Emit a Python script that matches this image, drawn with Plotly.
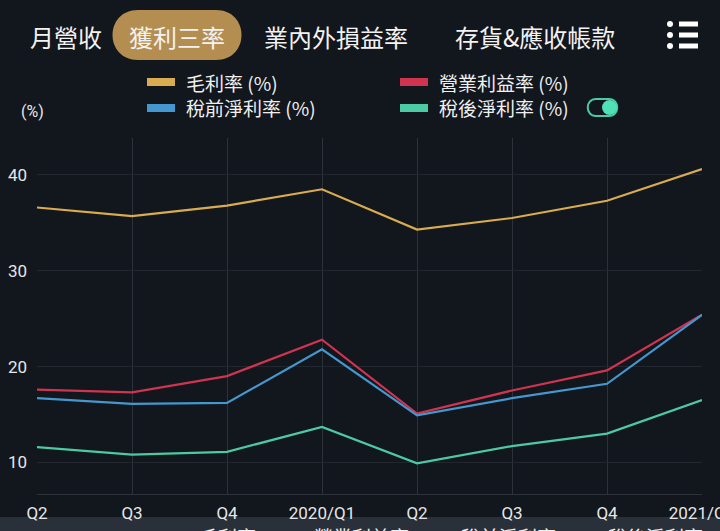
import plotly.graph_objects as go

categories = ["Q2", "Q3", "Q4", "2020/Q1", "Q2 ", "Q3 ", "Q4 ", "2021/Q1"]
tick_labels = ["Q2", "Q3", "Q4", "2020/Q1", "Q2", "Q3", "Q4", "2021/Q1"]
gross_margin = [36.6, 35.7, 36.8, 38.5, 34.3, 35.5, 37.3, 40.6]
operating_margin = [17.6, 17.3, 19.0, 22.8, 15.1, 17.5, 19.6, 25.4]
pretax_margin = [16.7, 16.1, 16.2, 21.8, 14.9, 16.7, 18.2, 25.4]
net_margin = [11.6, 10.8, 11.1, 13.7, 9.9, 11.7, 13.0, 16.5]
series_names = ["毛利率 (%)", "營業利益率 (%)", "稅前淨利率 (%)", "稅後淨利率 (%)"]
series_colors = ["#d8ac4f", "#cf3450", "#4597cf", "#4ccaa3"]
tabs = ["月營收", "獲利三率", "業內外損益率", "存貨&應收帳款"]
y_ticks = [10, 20, 30, 40]

BG = "#12161d"
FONT = "Noto Sans CJK TC, Noto Sans, sans-serif"
W, H = 720, 531
L, R, T, B = 37, 702, 138, 494


def px(x):
    return (x - L) / (R - L)


def py(y):
    return (B - y) / (B - T)


fig = go.Figure()
for name, vals, col in zip(series_names, [gross_margin, operating_margin, pretax_margin, net_margin], series_colors):
    fig.add_trace(go.Scatter(x=categories, y=vals, mode="lines", name=name,
                             line=dict(color=col, width=2.2), hoverinfo="skip"))

shapes = []
annotations = []

# tabs
tab_x = [66, 177, 336, 535]
shapes.append(dict(type="path", xref="paper", yref="paper",
                   path=f"M {px(138)},{py(10)} L {px(216)},{py(10)} "
                        f"C {px(250)},{py(10)} {px(250)},{py(60)} {px(216)},{py(60)} "
                        f"L {px(138)},{py(60)} C {px(104)},{py(60)} {px(104)},{py(10)} {px(138)},{py(10)} Z",
                   fillcolor="#b48e50", line=dict(width=0), layer="below"))
for t, x in zip(tabs, tab_x):
    annotations.append(dict(text=t, x=px(x), y=py(36), xref="paper", yref="paper",
                            showarrow=False, xanchor="center", yanchor="middle",
                            font=dict(size=24, color="#f2f2f2", family=FONT)))

# menu icon
for yy in [24, 35, 46]:
    shapes.append(dict(type="circle", xref="paper", yref="paper",
                       x0=px(667), x1=px(673), y0=py(yy - 3), y1=py(yy + 3),
                       fillcolor="#ffffff", line=dict(width=0)))
    shapes.append(dict(type="line", xref="paper", yref="paper",
                       x0=px(679), x1=px(698), y0=py(yy), y1=py(yy),
                       line=dict(color="#ffffff", width=5)))

# custom legend
leg_pos = [(147, 82), (400, 82), (147, 108), (400, 108)]
for (lx, ly), name, col in zip(leg_pos, series_names, series_colors):
    shapes.append(dict(type="rect", xref="paper", yref="paper",
                       x0=px(lx), x1=px(lx + 28), y0=py(ly + 4), y1=py(ly - 4),
                       fillcolor=col, line=dict(width=0)))
    annotations.append(dict(text=name, x=px(lx + 37), y=py(ly), xref="paper", yref="paper",
                            showarrow=False, xanchor="left", yanchor="middle",
                            font=dict(size=19, color="#f0f0f0", family=FONT)))

# toggle icon
shapes.append(dict(type="path", xref="paper", yref="paper",
                   path=f"M {px(596)},{py(99)} L {px(609)},{py(99)} "
                        f"C {px(620)},{py(99)} {px(620)},{py(116)} {px(609)},{py(116)} "
                        f"L {px(596)},{py(116)} C {px(585)},{py(116)} {px(585)},{py(99)} {px(596)},{py(99)} Z",
                   fillcolor="rgba(0,0,0,0)", line=dict(color="#4ccaa3", width=2)))
shapes.append(dict(type="circle", xref="paper", yref="paper",
                   x0=px(602), x1=px(617), y0=py(115), y1=py(100),
                   fillcolor="#4fe0b5", line=dict(width=0)))

# y-axis unit label
annotations.append(dict(text="(%)", x=px(32), y=py(112), xref="paper", yref="paper",
                        showarrow=False, xanchor="center", yanchor="middle",
                        font=dict(size=16, color="#e8e8e8", family="Roboto, Noto Sans, sans-serif")))

# bottom band (clipped legend bar)
shapes.append(dict(type="rect", xref="paper", yref="paper",
                   x0=px(0), x1=px(W), y0=py(H + 5), y1=py(517),
                   fillcolor="#2a303a", line=dict(width=0), layer="below"))
band_x = [197, 312, 459, 606]
for name, x in zip(series_names, band_x):
    annotations.append(dict(text=name.replace(" (%)", ""), x=px(x), y=py(521), xref="paper", yref="paper",
                            showarrow=False, xanchor="left", yanchor="top",
                            font=dict(size=19, color="#f0f0f0", family=FONT)))

fig.update_layout(
    width=W, height=H,
    margin=dict(l=L, r=W - R, t=T, b=H - B, pad=0, autoexpand=False),
    paper_bgcolor=BG, plot_bgcolor=BG,
    showlegend=False,
    shapes=shapes, annotations=annotations,
    font=dict(family=FONT, color="#e0e0e0"),
)
fig.update_xaxes(
    type="category", range=[0, len(categories) - 1], automargin=False,
    tickvals=categories, ticktext=tick_labels,
    showgrid=True, gridcolor="#2c313a", gridwidth=1,
    showline=True, linecolor="#2c313a", linewidth=1,
    zeroline=False, ticks="", ticklabelstandoff=4,
    tickfont=dict(size=17, color="#e6e6e6", family="Roboto, Noto Sans, sans-serif"),
)
fig.update_yaxes(
    range=[6.7, 43.85], tickvals=y_ticks, automargin=False,
    showgrid=True, gridcolor="#22272f", gridwidth=1,
    zeroline=False, showline=False, ticks="", ticklabelstandoff=9,
    tickfont=dict(size=17, color="#e6e6e6", family="Roboto, Noto Sans, sans-serif"),
)

fig.write_html("out.html", config={"displayModeBar": False},
               post_script="document.body.style.margin='0';document.body.style.background='#12161d';")
